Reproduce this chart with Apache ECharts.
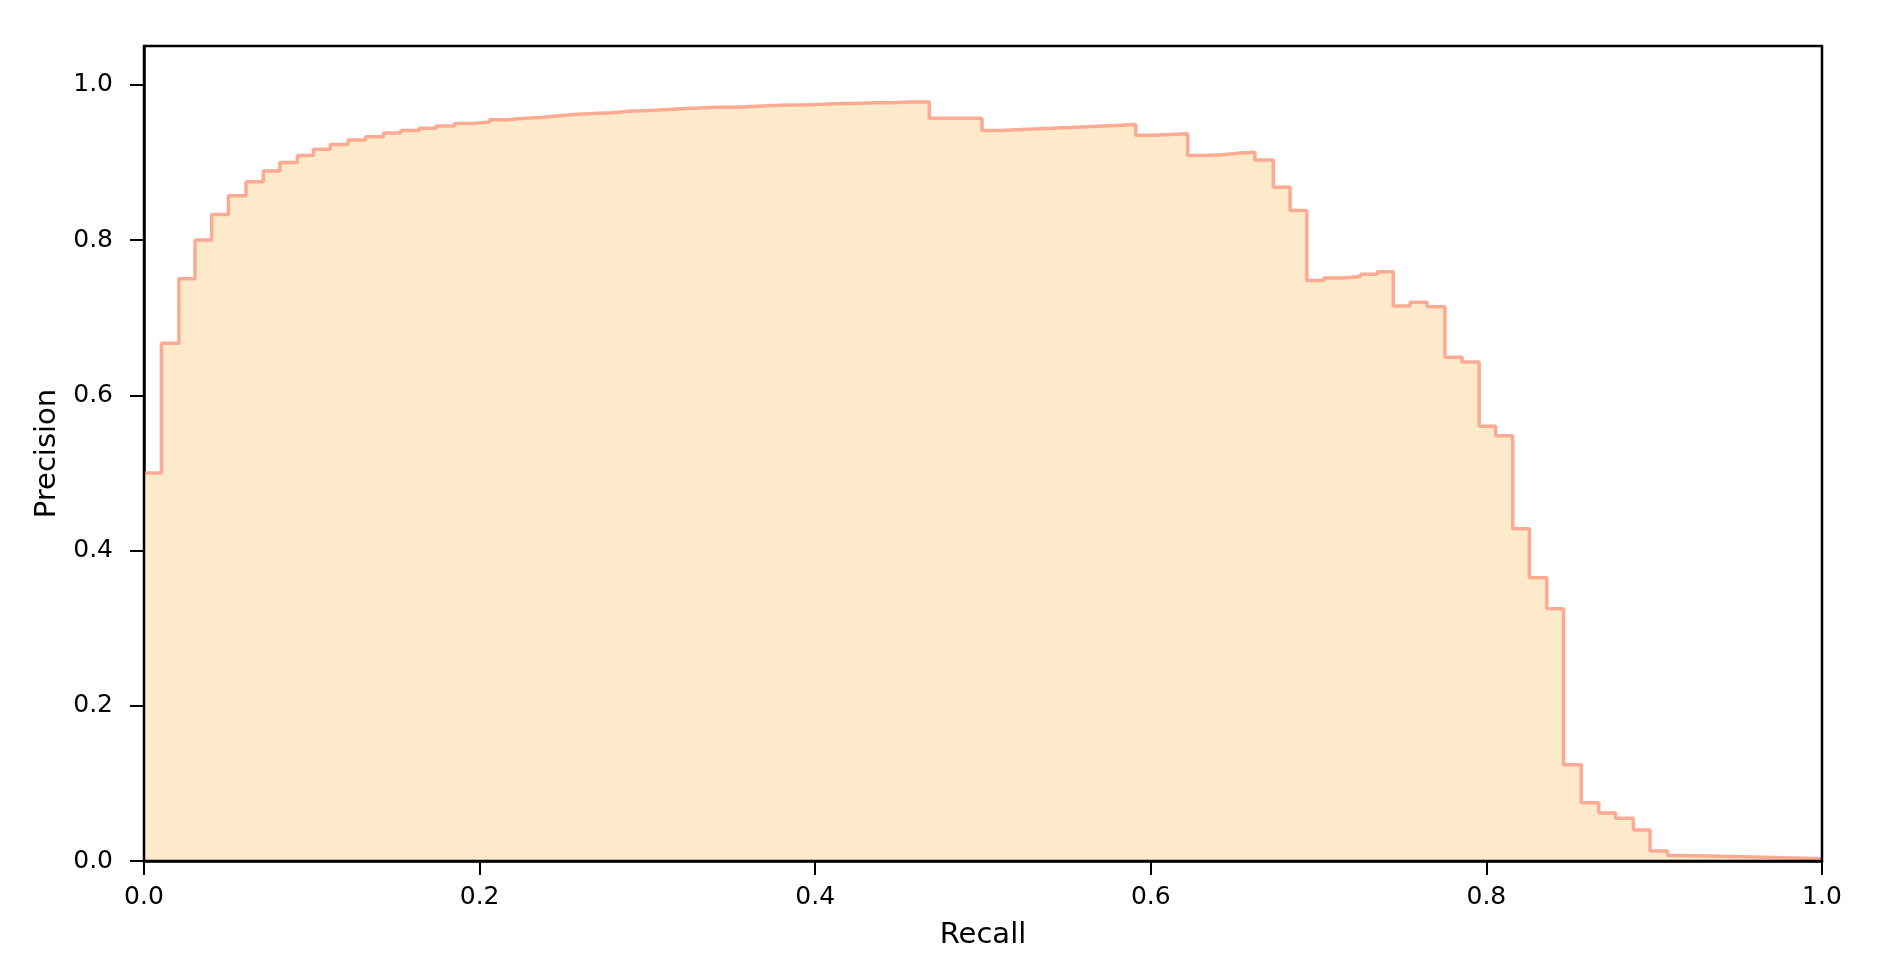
<!DOCTYPE html>
<html>
<head>
<meta charset="utf-8">
<script src="https://cdn.jsdelivr.net/npm/echarts@6/dist/echarts.min.js"></script>
<style>
html,body{margin:0;padding:0;background:#fff;}
#chart{width:1880px;height:969px;}
</style>
</head>
<body>
<div id="chart"></div>
<script>
// Recall at which each step starts (step holds until the next recall value)
const recall = [
  0.000, 0.0104, 0.0208, 0.0304, 0.0403, 0.0503, 0.0608, 0.0711, 0.0810,
  0.0914, 0.1010, 0.1110, 0.1216, 0.1320, 0.1426, 0.1530, 0.1640, 0.1740, 0.1850,
  0.1950, 0.2060, 0.2160, 0.2270, 0.2370, 0.2470, 0.2580, 0.2680, 0.2790, 0.2890,
  0.3000, 0.3100, 0.3200, 0.3310, 0.3410, 0.3520, 0.3620, 0.3720, 0.3830, 0.3930,
  0.4040, 0.4140, 0.4240, 0.4350, 0.4450, 0.4560,
  0.4680, 0.4994, 0.5098, 0.5202, 0.5306, 0.5410, 0.5514, 0.5618, 0.5722, 0.5826,
  0.5910, 0.6013, 0.6117, 0.6220, 0.6324, 0.6428, 0.6532, 0.6620, 0.6730, 0.6830,
  0.6930, 0.7030, 0.7140, 0.7250, 0.7350, 0.7445, 0.7545, 0.7647, 0.7753, 0.7855,
  0.7957, 0.8055, 0.8157, 0.8256, 0.8360, 0.8460, 0.8565, 0.8670, 0.8770, 0.8876,
  0.8975, 0.9080, 0.9180, 0.9600, 1.0000
];
// Precision held on each step
const precision = [
  0.500, 0.667, 0.750, 0.800, 0.833, 0.857, 0.875, 0.889, 0.900,
  0.909, 0.917, 0.923, 0.929, 0.933, 0.938, 0.941, 0.944, 0.947, 0.950,
  0.952, 0.955, 0.957, 0.958, 0.960, 0.962, 0.963, 0.964, 0.966, 0.967,
  0.968, 0.969, 0.970, 0.971, 0.971, 0.972, 0.973, 0.974, 0.974, 0.975,
  0.976, 0.976, 0.977, 0.977, 0.978, 0.978,
  0.957, 0.941, 0.942, 0.943, 0.944, 0.945, 0.946, 0.947, 0.948, 0.949,
  0.935, 0.936, 0.937, 0.909, 0.910, 0.912, 0.913, 0.903, 0.868, 0.838,
  0.748, 0.751, 0.753, 0.756, 0.759, 0.715, 0.720, 0.714, 0.649, 0.643,
  0.560, 0.548, 0.428, 0.365, 0.325, 0.124, 0.075, 0.062, 0.055, 0.040,
  0.013, 0.007, 0.005, 0.003, 0.003
];
const tickValues = [0, 0.2, 0.4, 0.6, 0.8, 1.0];
const xLabel = 'Recall';
const yLabel = 'Precision';

const pts = recall.map((r, i) => [r, precision[i]]);
const chart = echarts.init(document.getElementById('chart'), null, {renderer: 'canvas'});
const font = 'DejaVu Sans';
chart.setOption({
  animation: false,
  backgroundColor: '#ffffff',
  grid: {left: 144, right: 58, top: 46, bottom: 108, show: true, borderColor: '#000', borderWidth: 2.5, backgroundColor: 'transparent', z: 5},
  xAxis: {
    type: 'value', min: 0, max: 1, interval: 0.2,
    name: xLabel, nameLocation: 'middle', nameGap: 60,
    nameTextStyle: {fontFamily: font, fontSize: 29, color: '#000'},
    axisLine: {show: true, onZero: false, lineStyle: {color: '#000', width: 2.5}},
    axisTick: {show: true, inside: false, length: 14, lineStyle: {color: '#000', width: 2}},
    axisLabel: {fontFamily: font, fontSize: 25, color: '#000', margin: 24, formatter: v => v.toFixed(1)},
    splitLine: {show: false}
  },
  yAxis: {
    type: 'value', min: 0, max: 1.05,
    name: yLabel, nameLocation: 'middle', nameGap: 79, nameRotate: 90,
    nameTextStyle: {fontFamily: font, fontSize: 29, color: '#000'},
    axisLine: {show: true, lineStyle: {color: '#000', width: 2.5}},
    axisTick: {show: true, inside: false, length: 14, lineStyle: {color: '#000', width: 2}, customValues: tickValues},
    axisLabel: {fontFamily: font, fontSize: 25, color: '#000', margin: 31, customValues: tickValues, formatter: v => v.toFixed(1)},
    splitLine: {show: false}
  },
  series: [{
    type: 'line',
    data: pts,
    step: 'end',
    showSymbol: false,
    symbol: 'none',
    clip: true,
    lineStyle: {color: '#FCAA92', width: 3.5},
    areaStyle: {color: '#FDEACB', opacity: 1, origin: 'start'},
    z: 1
  }]
});
</script>
</body>
</html>
